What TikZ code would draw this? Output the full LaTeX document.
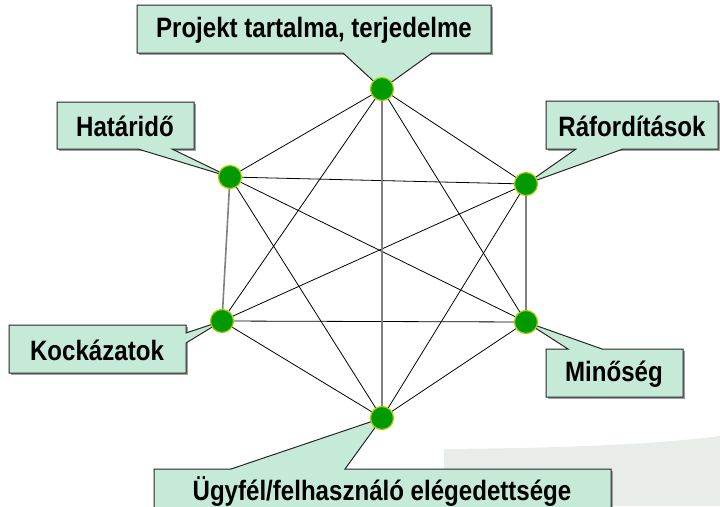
\documentclass[tikz,border=0pt]{standalone}
\usepackage{fontspec}
\newfontfamily\lblfont[FakeStretch=0.86]{Liberation Sans}
\usetikzlibrary{calc}
\pgfdeclarelayer{background}
\pgfsetlayers{background,main}
\definecolor{boxgreen}{HTML}{C5EAD8}
\definecolor{dotgreen}{HTML}{009900}
\definecolor{dotrim}{HTML}{A6CC00}
\definecolor{bgpale}{HTML}{E8EDEA}

\begin{document}
\begin{tikzpicture}[x=1pt,y=-1pt,
    dot/.style={circle,fill=dotgreen,draw=dotrim,line width=1.2pt,minimum size=23pt,inner sep=0pt},
    edge/.style={black,line width=0.8pt},
    vedge/.style={gray,line width=1.6pt},
    callout/.style={fill=boxgreen,draw=black!85,line width=1pt,line join=miter},
    boxshadow/.style={fill=gray!75},
    lbl/.style={font=\lblfont\bfseries\fontsize{28}{30}\selectfont,inner sep=0pt}]
    \useasboundingbox (0,0) rectangle (720,506);
    % the six corners
    \node[dot] (pk) at (382,89) {};
    \node[dot] (hi) at (230,177) {};
    \node[dot] (ra) at (526,184) {};
    \node[dot] (ko) at (222,321) {};
    \node[dot] (mi) at (526,322) {};
    \node[dot] (ug) at (382,418) {};
    \begin{pgfonlayer}{background}
        \fill[bgpale] (444,506) -- (444,449) .. controls (560,448) and (650,445) .. (720,436) -- (720,506) -- cycle;
        % callouts
        \fill[boxshadow] (139,7) rectangle (493,55);
        \draw[callout] (137,5) -- (491,5) -- (491,53) -- (432,53) -- (pk.center) -- (343,53) -- (137,53) -- cycle;
        \fill[boxshadow] (59,104) rectangle (196,151);
        \draw[callout] (57,102) -- (194,102) -- (194,149) -- (172,149) -- (hi.center) -- (138,149) -- (57,149) -- cycle;
        \fill[boxshadow] (548,103) rectangle (720,151);
        \draw[callout] (546,101) -- (718,101) -- (718,149) -- (623,149) -- (ra.center) -- (576,149) -- (546,149) -- cycle;
        \fill[boxshadow] (11,327) rectangle (188,375);
        \draw[callout] (9,325) -- (186,325) -- (186,333) -- (ko.center) -- (186,343) -- (186,373) -- (9,373) -- cycle;
        \fill[boxshadow] (548,351) rectangle (685,399);
        \draw[callout] (546,349) -- (568,349) -- (mi.center) -- (602,349) -- (683,349) -- (683,397) -- (546,397) -- cycle;
        \fill[boxshadow] (156,471) rectangle (613,510);
        \draw[callout] (154,469) -- (231,469) -- (ug.center) -- (345,469) -- (611,469) -- (611,510) -- (154,510) -- cycle;
        % all the links
        \foreach \a/\b in {pk/hi,pk/ra,pk/ko,pk/mi,hi/ra,hi/mi,hi/ug,ra/ko,ra/ug,ko/mi,ko/ug,mi/ug}
            \draw[edge] (\a) -- (\b);
        \foreach \a/\b in {hi/ko,pk/ug,ra/mi}
            \draw[vedge] (\a) -- (\b);
    \end{pgfonlayer}
    % labels
    \node[lbl] (pkt) at (314,30) {Projekt tartalma, terjedelme};
    \node[lbl] (hit) at (125,126) {Határidő};
    \node[lbl] (rat) at (632,126) {Ráfordítások};
    \node[lbl] (kot) at (97,350) {Kockázatok};
    \node[lbl] (mit) at (614,374) {Minőség};
    \node[lbl] (ugt) at (382,492) {Ügyfél/felhasználó elégedettsége};
\end{tikzpicture}
\end{document}
